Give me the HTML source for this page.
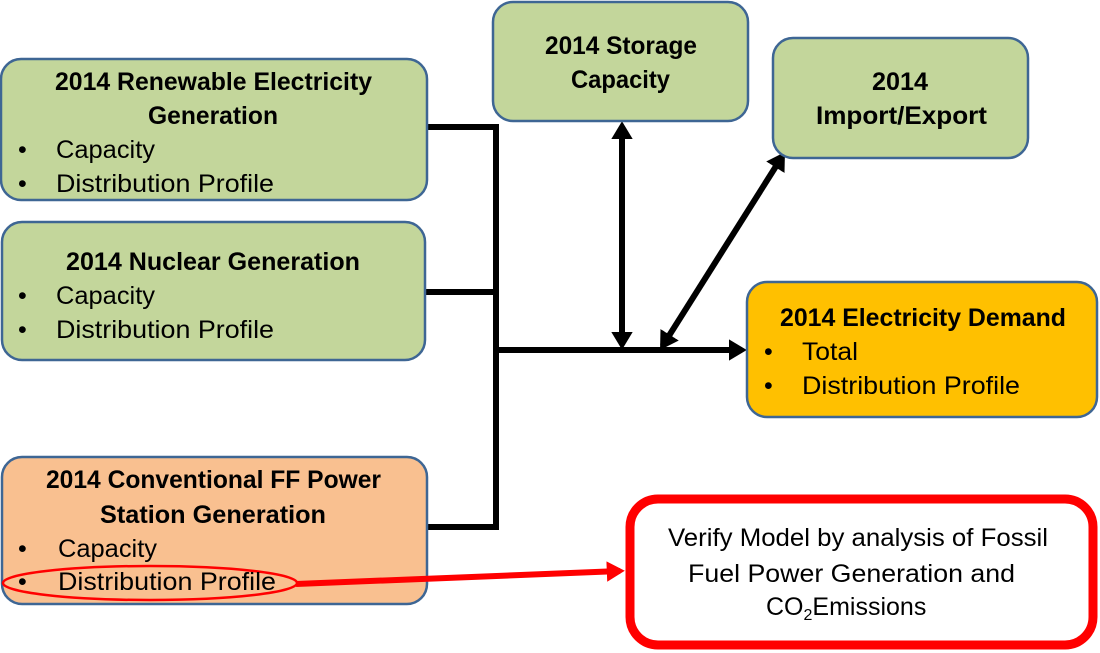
<!DOCTYPE html>
<html><head><meta charset="utf-8"><style>
html,body{margin:0;padding:0;background:#fff;}
svg{display:block;font-family:"Liberation Sans",sans-serif;}
.t{font-weight:bold;font-size:25px;fill:#000;}
.b{font-size:25px;fill:#000;}
</style></head><body>
<svg width="1100" height="653" viewBox="0 0 1100 653" xmlns="http://www.w3.org/2000/svg">
<defs>
<marker id="ah" markerWidth="4" markerHeight="4" refX="2.2" refY="2" orient="auto-start-reverse" markerUnits="strokeWidth">
<path d="M0,0.2 L3,2 L0,3.8 Z" fill="#000"/></marker>
<marker id="rh" markerWidth="4" markerHeight="4" refX="2.2" refY="2" orient="auto" markerUnits="strokeWidth">
<path d="M0,0.3 L3,2 L0,3.7 Z" fill="#f00"/></marker>
</defs>
<g stroke="#000" stroke-width="6" fill="none">
<polyline points="427,127 496,127 496,530"/>
<line x1="425" y1="292" x2="496" y2="292"/>
<line x1="427" y1="527" x2="496" y2="527"/>
<line x1="496" y1="350" x2="742" y2="350" marker-end="url(#ah)"/>
<line x1="622" y1="126" x2="622" y2="345" marker-start="url(#ah)" marker-end="url(#ah)"/>
<line x1="662.6" y1="345.9" x2="782.4" y2="156.1" marker-start="url(#ah)" marker-end="url(#ah)"/>
</g>
<g stroke="#3e6694" stroke-width="2.5">
<rect x="1" y="59" width="426" height="141" rx="20" fill="#c3d69b"/>
<rect x="2" y="222" width="423" height="138" rx="20" fill="#c3d69b"/>
<rect x="2" y="457" width="425" height="147" rx="20" fill="#f9c090"/>
<rect x="493" y="2" width="255" height="119" rx="20" fill="#c3d69b"/>
<rect x="773" y="38" width="255" height="120" rx="20" fill="#c3d69b"/>
<rect x="747" y="282" width="350" height="135" rx="20" fill="#ffc000"/>
</g>
<rect x="630" y="499" width="463" height="146" rx="28" fill="#fff" stroke="#f00" stroke-width="9"/>
<ellipse cx="150" cy="583" rx="147" ry="17" fill="none" stroke="#f00" stroke-width="2.5"/>
<line x1="296" y1="584" x2="620" y2="571" stroke="#f00" stroke-width="6" marker-end="url(#rh)"/>

<text class="t" x="55" y="90" textLength="317" lengthAdjust="spacingAndGlyphs">2014 Renewable Electricity</text>
<text class="t" x="148" y="124" textLength="130" lengthAdjust="spacingAndGlyphs">Generation</text>
<text class="b" x="18" y="158">•</text><text class="b" x="56" y="158" textLength="99" lengthAdjust="spacingAndGlyphs">Capacity</text>
<text class="b" x="18" y="192">•</text><text class="b" x="56" y="192" textLength="218" lengthAdjust="spacingAndGlyphs">Distribution Profile</text>

<text class="t" x="66" y="270" textLength="294" lengthAdjust="spacingAndGlyphs">2014 Nuclear Generation</text>
<text class="b" x="18" y="304">•</text><text class="b" x="56" y="304" textLength="99" lengthAdjust="spacingAndGlyphs">Capacity</text>
<text class="b" x="18" y="338">•</text><text class="b" x="56" y="338" textLength="218" lengthAdjust="spacingAndGlyphs">Distribution Profile</text>

<text class="t" x="46" y="488" textLength="335" lengthAdjust="spacingAndGlyphs">2014 Conventional FF Power</text>
<text class="t" x="100" y="523" textLength="226" lengthAdjust="spacingAndGlyphs">Station Generation</text>
<text class="b" x="18" y="557">•</text><text class="b" x="58" y="557" textLength="99" lengthAdjust="spacingAndGlyphs">Capacity</text>
<text class="b" x="18" y="590">•</text><text class="b" x="58" y="590" textLength="218" lengthAdjust="spacingAndGlyphs">Distribution Profile</text>

<text class="t" x="545" y="54" textLength="152" lengthAdjust="spacingAndGlyphs">2014 Storage</text>
<text class="t" x="571" y="88" textLength="99" lengthAdjust="spacingAndGlyphs">Capacity</text>

<text class="t" x="872" y="90" textLength="56" lengthAdjust="spacingAndGlyphs">2014</text>
<text class="t" x="816" y="124" textLength="171" lengthAdjust="spacingAndGlyphs">Import/Export</text>

<text class="t" x="780" y="326" textLength="286" lengthAdjust="spacingAndGlyphs">2014 Electricity Demand</text>
<text class="b" x="764" y="360">•</text><text class="b" x="802" y="360" textLength="56" lengthAdjust="spacingAndGlyphs">Total</text>
<text class="b" x="764" y="394">•</text><text class="b" x="802" y="394" textLength="218" lengthAdjust="spacingAndGlyphs">Distribution Profile</text>

<text class="b" x="668" y="546" textLength="380" lengthAdjust="spacingAndGlyphs">Verify Model by analysis of Fossil</text>
<text class="b" x="688" y="582" textLength="327" lengthAdjust="spacingAndGlyphs">Fuel Power Generation and</text>
<text class="b" x="766" y="615">CO<tspan font-size="16" dy="5">2</tspan><tspan dy="-5">Emissions</tspan></text>
</svg>
</body></html>
